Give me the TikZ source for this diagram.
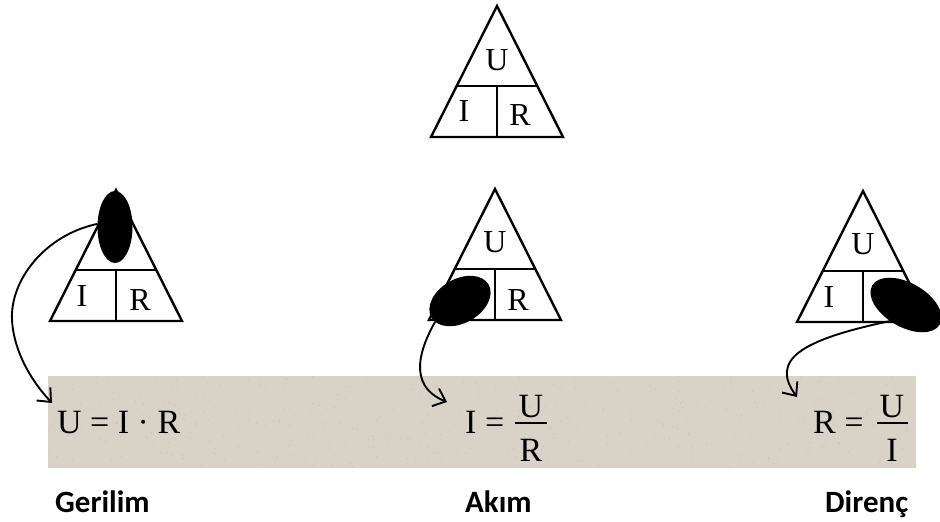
\documentclass[tikz,border=0pt]{standalone}
\usepackage{fontspec}
\setmainfont{Liberation Serif}
\newfontfamily\labelfont{Carlito}[BoldFont={Carlito Bold}]
\usetikzlibrary{arrows.meta,shapes.geometric}
\definecolor{band}{RGB}{217,211,199}
\definecolor{bandspeck}{RGB}{170,162,148}
\begin{document}
\begin{tikzpicture}[x=1pt,y=-1pt,
  triline/.style={line width=2.4pt, line join=miter},
  blob/.style={ellipse, fill=black, inner sep=0pt},
  conn/.style={line width=1.9pt, -{Straight Barb[length=11pt,width=19pt,line width=1.9pt]}},
  trilet/.style={font=\fontsize{32}{32}\selectfont, inner sep=0pt},
  formula/.style={font=\fontsize{34}{34}\selectfont, inner sep=0pt, anchor=base west},
  fracpart/.style={font=\fontsize{34}{34}\selectfont, inner sep=0pt, anchor=base},
  fracbar/.style={line width=2.2pt},
  caption/.style={font=\labelfont\bfseries\fontsize{31}{31}\selectfont, inner sep=0pt, anchor=base west},
  tri/.pic={
    \draw[triline] (0,0) -- (66,131) -- (-66,131) -- cycle;
    \draw[triline] (-40.3,80) -- (40.3,80);
    \draw[triline] (0,80) -- (0,131);
  }
]
\useasboundingbox (0,0) rectangle (940,522);

% band
\fill[band] (48,376) rectangle (916,468);
\pgfmathsetseed{7}
\foreach \i in {1,...,500}{
  \fill[bandspeck, opacity=0.35] ({48+rnd*868},{376+rnd*92}) circle (0.6pt);
}

% top triangle
\pic at (497,6) {tri};
\node[trilet] (tU) at (497,60) {U};
\node[trilet] (tI) at (464,111) {I};
\node[trilet] (tR) at (520,115) {R};

% left triangle
\pic at (116,190) {tri};
\node[trilet] (lI) at (82,296) {I};
\node[trilet] (lR) at (140,300) {R};
\node[blob, minimum width=35pt, minimum height=72pt] (el1) at (115,227) {};

% middle triangle
\pic at (495,189) {tri};
\node[trilet] (mU) at (495,242) {U};
\node[trilet] (mR) at (518,300) {R};
\node[blob, minimum width=66pt, minimum height=44pt, rotate=30] (el2) at (460,301) {};

% right triangle
\pic at (863,191) {tri};
\node[trilet] (rU) at (863,244) {U};
\node[trilet] (rI) at (829,297) {I};
\node[blob, minimum width=78pt, minimum height=44pt, rotate=-30] (el3) at (906,305) {};

% formulas
\node[formula] (f1) at (57,433) {U = I · R};

\node[formula] (f2) at (465,433) {I =};
\node[fracpart] (f2n) at (531,417) {U};
\draw[fracbar] (515,423) -- (547,423);
\node[fracpart] (f2d) at (531,461) {R};

\node[formula] (f3) at (813,433) {R =};
\node[fracpart] (f3n) at (892,417) {U};
\draw[fracbar] (877,423) -- (908,423);
\node[fracpart] (f3d) at (892,461) {I};

% arrow tips
\coordinate (t1) at (52,403);
\coordinate (t2) at (447,402);
\coordinate (t3) at (797,397);

% connectors
\draw[conn] (el1.170) .. controls (45,235) and (10,280) .. (12,320)
                      .. controls (14,355) and (35,385) .. (t1);
\draw[conn] (el2.190) .. controls (422,345) and (405,385) .. (t2);
\draw[conn] (el3.255) .. controls (800,340) and (770,360) .. (t3);

% captions
\node[caption] (c1) at (55,512) {Gerilim};
\node[caption] (c2) at (465,512) {Akım};
\node[caption] (c3) at (825,512) {Direnç};
\end{tikzpicture}
\end{document}
